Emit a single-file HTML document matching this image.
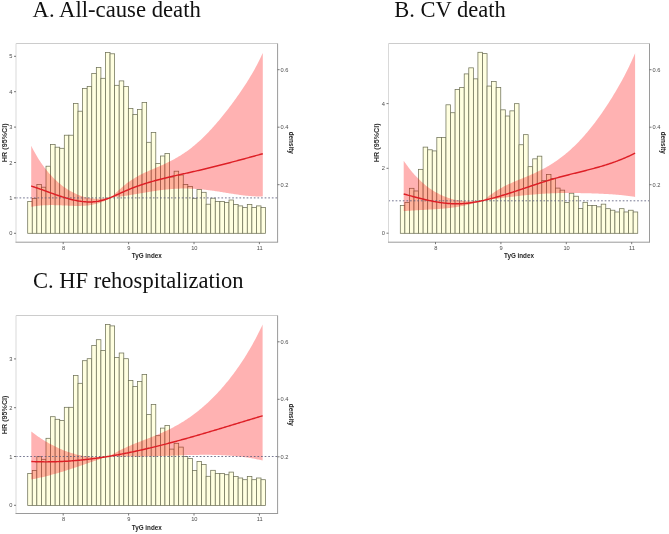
<!DOCTYPE html><html><head><meta charset="utf-8"><style>html,body{margin:0;padding:0;background:#fff;width:669px;height:534px;overflow:hidden}svg{display:block;will-change:transform}text{font-family:"Liberation Sans",sans-serif}.t{font-family:"Liberation Serif",serif}</style></head><body>
<svg width="669" height="534" viewBox="0 0 669 534">
<g><text class="t" x="32.60" y="16.90" font-size="22.70" fill="#111">A. All-cause death</text>
<rect x="27.70" y="201.40" width="4.575" height="31.90" fill="#ffffe0" stroke="#6f7258" stroke-width="0.75"/>
<rect x="32.27" y="198.40" width="4.575" height="34.90" fill="#ffffe0" stroke="#6f7258" stroke-width="0.75"/>
<rect x="36.85" y="184.60" width="4.575" height="48.70" fill="#ffffe0" stroke="#6f7258" stroke-width="0.75"/>
<rect x="41.42" y="187.20" width="4.575" height="46.10" fill="#ffffe0" stroke="#6f7258" stroke-width="0.75"/>
<rect x="46.00" y="166.20" width="4.575" height="67.10" fill="#ffffe0" stroke="#6f7258" stroke-width="0.75"/>
<rect x="50.58" y="144.60" width="4.575" height="88.70" fill="#ffffe0" stroke="#6f7258" stroke-width="0.75"/>
<rect x="55.15" y="147.20" width="4.575" height="86.10" fill="#ffffe0" stroke="#6f7258" stroke-width="0.75"/>
<rect x="59.72" y="148.30" width="4.575" height="85.00" fill="#ffffe0" stroke="#6f7258" stroke-width="0.75"/>
<rect x="64.30" y="135.20" width="4.575" height="98.10" fill="#ffffe0" stroke="#6f7258" stroke-width="0.75"/>
<rect x="68.88" y="135.20" width="4.575" height="98.10" fill="#ffffe0" stroke="#6f7258" stroke-width="0.75"/>
<rect x="73.45" y="103.50" width="4.575" height="129.80" fill="#ffffe0" stroke="#6f7258" stroke-width="0.75"/>
<rect x="78.03" y="111.20" width="4.575" height="122.10" fill="#ffffe0" stroke="#6f7258" stroke-width="0.75"/>
<rect x="82.60" y="88.60" width="4.575" height="144.70" fill="#ffffe0" stroke="#6f7258" stroke-width="0.75"/>
<rect x="87.17" y="86.60" width="4.575" height="146.70" fill="#ffffe0" stroke="#6f7258" stroke-width="0.75"/>
<rect x="91.75" y="73.50" width="4.575" height="159.80" fill="#ffffe0" stroke="#6f7258" stroke-width="0.75"/>
<rect x="96.33" y="67.60" width="4.575" height="165.70" fill="#ffffe0" stroke="#6f7258" stroke-width="0.75"/>
<rect x="100.90" y="78.30" width="4.575" height="155.00" fill="#ffffe0" stroke="#6f7258" stroke-width="0.75"/>
<rect x="105.48" y="52.50" width="4.575" height="180.80" fill="#ffffe0" stroke="#6f7258" stroke-width="0.75"/>
<rect x="110.05" y="53.80" width="4.575" height="179.50" fill="#ffffe0" stroke="#6f7258" stroke-width="0.75"/>
<rect x="114.62" y="85.30" width="4.575" height="148.00" fill="#ffffe0" stroke="#6f7258" stroke-width="0.75"/>
<rect x="119.20" y="80.90" width="4.575" height="152.40" fill="#ffffe0" stroke="#6f7258" stroke-width="0.75"/>
<rect x="123.78" y="86.60" width="4.575" height="146.70" fill="#ffffe0" stroke="#6f7258" stroke-width="0.75"/>
<rect x="128.35" y="108.40" width="4.575" height="124.90" fill="#ffffe0" stroke="#6f7258" stroke-width="0.75"/>
<rect x="132.93" y="114.40" width="4.575" height="118.90" fill="#ffffe0" stroke="#6f7258" stroke-width="0.75"/>
<rect x="137.50" y="109.40" width="4.575" height="123.90" fill="#ffffe0" stroke="#6f7258" stroke-width="0.75"/>
<rect x="142.07" y="102.40" width="4.575" height="130.90" fill="#ffffe0" stroke="#6f7258" stroke-width="0.75"/>
<rect x="146.65" y="142.30" width="4.575" height="91.00" fill="#ffffe0" stroke="#6f7258" stroke-width="0.75"/>
<rect x="151.22" y="132.50" width="4.575" height="100.80" fill="#ffffe0" stroke="#6f7258" stroke-width="0.75"/>
<rect x="155.80" y="163.60" width="4.575" height="69.70" fill="#ffffe0" stroke="#6f7258" stroke-width="0.75"/>
<rect x="160.38" y="156.00" width="4.575" height="77.30" fill="#ffffe0" stroke="#6f7258" stroke-width="0.75"/>
<rect x="164.95" y="153.40" width="4.575" height="79.90" fill="#ffffe0" stroke="#6f7258" stroke-width="0.75"/>
<rect x="169.53" y="177.00" width="4.575" height="56.30" fill="#ffffe0" stroke="#6f7258" stroke-width="0.75"/>
<rect x="174.10" y="171.20" width="4.575" height="62.10" fill="#ffffe0" stroke="#6f7258" stroke-width="0.75"/>
<rect x="178.67" y="175.00" width="4.575" height="58.30" fill="#ffffe0" stroke="#6f7258" stroke-width="0.75"/>
<rect x="183.25" y="184.40" width="4.575" height="48.90" fill="#ffffe0" stroke="#6f7258" stroke-width="0.75"/>
<rect x="187.82" y="186.40" width="4.575" height="46.90" fill="#ffffe0" stroke="#6f7258" stroke-width="0.75"/>
<rect x="192.40" y="198.30" width="4.575" height="35.00" fill="#ffffe0" stroke="#6f7258" stroke-width="0.75"/>
<rect x="196.97" y="189.40" width="4.575" height="43.90" fill="#ffffe0" stroke="#6f7258" stroke-width="0.75"/>
<rect x="201.55" y="192.30" width="4.575" height="41.00" fill="#ffffe0" stroke="#6f7258" stroke-width="0.75"/>
<rect x="206.12" y="204.20" width="4.575" height="29.10" fill="#ffffe0" stroke="#6f7258" stroke-width="0.75"/>
<rect x="210.70" y="198.20" width="4.575" height="35.10" fill="#ffffe0" stroke="#6f7258" stroke-width="0.75"/>
<rect x="215.28" y="201.40" width="4.575" height="31.90" fill="#ffffe0" stroke="#6f7258" stroke-width="0.75"/>
<rect x="219.85" y="201.40" width="4.575" height="31.90" fill="#ffffe0" stroke="#6f7258" stroke-width="0.75"/>
<rect x="224.42" y="202.60" width="4.575" height="30.70" fill="#ffffe0" stroke="#6f7258" stroke-width="0.75"/>
<rect x="229.00" y="200.00" width="4.575" height="33.30" fill="#ffffe0" stroke="#6f7258" stroke-width="0.75"/>
<rect x="233.57" y="204.40" width="4.575" height="28.90" fill="#ffffe0" stroke="#6f7258" stroke-width="0.75"/>
<rect x="238.15" y="205.90" width="4.575" height="27.40" fill="#ffffe0" stroke="#6f7258" stroke-width="0.75"/>
<rect x="242.72" y="207.60" width="4.575" height="25.70" fill="#ffffe0" stroke="#6f7258" stroke-width="0.75"/>
<rect x="247.30" y="204.40" width="4.575" height="28.90" fill="#ffffe0" stroke="#6f7258" stroke-width="0.75"/>
<rect x="251.88" y="207.60" width="4.575" height="25.70" fill="#ffffe0" stroke="#6f7258" stroke-width="0.75"/>
<rect x="256.45" y="205.90" width="4.575" height="27.40" fill="#ffffe0" stroke="#6f7258" stroke-width="0.75"/>
<rect x="261.03" y="207.60" width="4.575" height="25.70" fill="#ffffe0" stroke="#6f7258" stroke-width="0.75"/>
<path d="M31.20,145.73 L32.20,147.72 L33.21,149.64 L34.21,151.50 L35.21,153.31 L36.21,155.05 L37.22,156.74 L38.22,158.38 L39.22,159.97 L40.22,161.50 L41.23,162.99 L42.23,164.44 L43.23,165.84 L44.23,167.20 L45.24,168.51 L46.24,169.79 L47.24,171.03 L48.24,172.23 L49.25,173.39 L50.25,174.52 L51.25,175.62 L52.25,176.68 L53.26,177.71 L54.26,178.71 L55.26,179.68 L56.26,180.62 L57.27,181.53 L58.27,182.41 L59.27,183.26 L60.28,184.09 L61.28,184.89 L62.28,185.67 L63.28,186.42 L64.29,187.14 L65.29,187.84 L66.29,188.52 L67.29,189.17 L68.30,189.80 L69.30,190.41 L70.30,190.99 L71.30,191.56 L72.31,192.10 L73.31,192.62 L74.31,193.11 L75.31,193.59 L76.32,194.04 L77.32,194.48 L78.32,194.89 L79.32,195.28 L80.33,195.65 L81.33,196.01 L82.33,196.33 L83.34,196.64 L84.34,196.93 L85.34,197.20 L86.34,197.44 L87.35,197.67 L88.35,197.87 L89.35,198.05 L90.35,198.22 L91.36,198.35 L92.36,198.47 L93.36,198.57 L94.36,198.64 L95.37,198.70 L96.37,198.73 L97.37,198.74 L98.37,198.72 L99.38,198.69 L100.38,198.64 L101.38,198.56 L102.38,198.47 L103.39,198.36 L104.39,198.24 L105.39,198.11 L106.39,197.97 L107.40,197.81 L108.40,197.65 L109.40,197.48 L110.41,197.31 L111.41,197.13 L111.50,197.12 L112.41,196.22 L113.41,195.25 L114.42,194.27 L115.42,193.31 L116.42,192.35 L117.42,191.40 L118.43,190.47 L119.43,189.55 L120.43,188.64 L121.43,187.75 L122.44,186.88 L123.44,186.03 L124.44,185.20 L125.44,184.39 L126.45,183.61 L127.45,182.85 L128.45,182.12 L129.45,181.40 L130.46,180.71 L131.46,180.04 L132.46,179.39 L133.46,178.76 L134.47,178.14 L135.47,177.55 L136.47,176.97 L137.48,176.40 L138.48,175.85 L139.48,175.32 L140.48,174.80 L141.49,174.29 L142.49,173.79 L143.49,173.31 L144.49,172.83 L145.50,172.36 L146.50,171.90 L147.50,171.45 L148.50,171.00 L149.51,170.56 L150.51,170.12 L151.51,169.68 L152.51,169.25 L153.52,168.82 L154.52,168.39 L155.52,167.96 L156.52,167.53 L157.53,167.09 L158.53,166.66 L159.53,166.22 L160.54,165.78 L161.54,165.34 L162.54,164.89 L163.54,164.43 L164.55,163.97 L165.55,163.51 L166.55,163.03 L167.55,162.55 L168.56,162.06 L169.56,161.56 L170.56,161.06 L171.56,160.54 L172.57,160.01 L173.57,159.48 L174.57,158.93 L175.57,158.37 L176.58,157.80 L177.58,157.21 L178.58,156.62 L179.58,156.01 L180.59,155.39 L181.59,154.76 L182.59,154.11 L183.59,153.45 L184.60,152.77 L185.60,152.09 L186.60,151.38 L187.61,150.66 L188.61,149.93 L189.61,149.18 L190.61,148.41 L191.62,147.63 L192.62,146.84 L193.62,146.02 L194.62,145.20 L195.63,144.35 L196.63,143.49 L197.63,142.61 L198.63,141.72 L199.64,140.81 L200.64,139.88 L201.64,138.94 L202.64,137.98 L203.65,137.01 L204.65,136.02 L205.65,135.02 L206.65,134.00 L207.66,132.97 L208.66,131.92 L209.66,130.85 L210.66,129.78 L211.67,128.68 L212.67,127.58 L213.67,126.46 L214.68,125.32 L215.68,124.18 L216.68,123.02 L217.68,121.84 L218.69,120.66 L219.69,119.46 L220.69,118.25 L221.69,117.02 L222.70,115.79 L223.70,114.54 L224.70,113.28 L225.70,112.01 L226.71,110.73 L227.71,109.43 L228.71,108.13 L229.71,106.81 L230.72,105.48 L231.72,104.14 L232.72,102.79 L233.72,101.42 L234.73,100.05 L235.73,98.66 L236.73,97.25 L237.74,95.84 L238.74,94.41 L239.74,92.96 L240.74,91.50 L241.75,90.03 L242.75,88.53 L243.75,87.02 L244.75,85.50 L245.76,83.95 L246.76,82.38 L247.76,80.79 L248.76,79.18 L249.77,77.54 L250.77,75.87 L251.77,74.18 L252.77,72.45 L253.78,70.70 L254.78,68.90 L255.78,67.07 L256.78,65.20 L257.79,63.29 L258.79,61.32 L259.79,59.31 L260.79,57.25 L261.80,55.12 L262.80,52.94 L262.80,196.36 L261.80,196.40 L260.79,196.43 L259.79,196.44 L258.79,196.45 L257.79,196.44 L256.78,196.42 L255.78,196.39 L254.78,196.36 L253.78,196.31 L252.77,196.26 L251.77,196.19 L250.77,196.12 L249.77,196.04 L248.76,195.95 L247.76,195.86 L246.76,195.76 L245.76,195.65 L244.75,195.54 L243.75,195.42 L242.75,195.30 L241.75,195.17 L240.74,195.04 L239.74,194.90 L238.74,194.76 L237.74,194.62 L236.73,194.47 L235.73,194.32 L234.73,194.17 L233.72,194.01 L232.72,193.86 L231.72,193.70 L230.72,193.54 L229.71,193.38 L228.71,193.21 L227.71,193.05 L226.71,192.89 L225.70,192.73 L224.70,192.56 L223.70,192.40 L222.70,192.24 L221.69,192.08 L220.69,191.92 L219.69,191.76 L218.69,191.60 L217.68,191.45 L216.68,191.29 L215.68,191.14 L214.68,191.00 L213.67,190.85 L212.67,190.71 L211.67,190.57 L210.66,190.44 L209.66,190.31 L208.66,190.18 L207.66,190.06 L206.65,189.94 L205.65,189.82 L204.65,189.71 L203.65,189.60 L202.64,189.50 L201.64,189.40 L200.64,189.31 L199.64,189.23 L198.63,189.14 L197.63,189.07 L196.63,188.99 L195.63,188.93 L194.62,188.87 L193.62,188.81 L192.62,188.76 L191.62,188.71 L190.61,188.67 L189.61,188.64 L188.61,188.61 L187.61,188.59 L186.60,188.57 L185.60,188.56 L184.60,188.56 L183.59,188.56 L182.59,188.57 L181.59,188.58 L180.59,188.60 L179.58,188.63 L178.58,188.66 L177.58,188.70 L176.58,188.75 L175.57,188.80 L174.57,188.85 L173.57,188.91 L172.57,188.98 L171.56,189.05 L170.56,189.13 L169.56,189.22 L168.56,189.31 L167.55,189.40 L166.55,189.50 L165.55,189.61 L164.55,189.72 L163.54,189.83 L162.54,189.95 L161.54,190.07 L160.54,190.20 L159.53,190.33 L158.53,190.47 L157.53,190.61 L156.52,190.75 L155.52,190.90 L154.52,191.05 L153.52,191.20 L152.51,191.35 L151.51,191.51 L150.51,191.67 L149.51,191.83 L148.50,191.99 L147.50,192.16 L146.50,192.33 L145.50,192.49 L144.49,192.66 L143.49,192.83 L142.49,193.00 L141.49,193.17 L140.48,193.35 L139.48,193.52 L138.48,193.69 L137.48,193.86 L136.47,194.03 L135.47,194.20 L134.47,194.37 L133.46,194.53 L132.46,194.70 L131.46,194.87 L130.46,195.03 L129.45,195.19 L128.45,195.35 L127.45,195.51 L126.45,195.66 L125.44,195.82 L124.44,195.97 L123.44,196.12 L122.44,196.26 L121.43,196.40 L120.43,196.53 L119.43,196.65 L118.43,196.77 L117.42,196.87 L116.42,196.95 L115.42,197.02 L114.42,197.08 L113.41,197.11 L112.41,197.12 L111.50,197.12 L111.41,197.17 L110.41,197.77 L109.40,198.35 L108.40,198.91 L107.40,199.44 L106.39,199.96 L105.39,200.46 L104.39,200.93 L103.39,201.38 L102.38,201.80 L101.38,202.21 L100.38,202.59 L99.38,202.94 L98.37,203.27 L97.37,203.58 L96.37,203.86 L95.37,204.12 L94.36,204.36 L93.36,204.57 L92.36,204.77 L91.36,204.95 L90.35,205.11 L89.35,205.25 L88.35,205.38 L87.35,205.49 L86.34,205.59 L85.34,205.67 L84.34,205.74 L83.34,205.79 L82.33,205.84 L81.33,205.87 L80.33,205.90 L79.32,205.91 L78.32,205.92 L77.32,205.92 L76.32,205.91 L75.31,205.90 L74.31,205.88 L73.31,205.85 L72.31,205.82 L71.30,205.79 L70.30,205.75 L69.30,205.71 L68.30,205.67 L67.29,205.62 L66.29,205.58 L65.29,205.53 L64.29,205.49 L63.28,205.44 L62.28,205.39 L61.28,205.35 L60.28,205.31 L59.27,205.27 L58.27,205.23 L57.27,205.20 L56.26,205.17 L55.26,205.15 L54.26,205.13 L53.26,205.11 L52.25,205.10 L51.25,205.10 L50.25,205.11 L49.25,205.12 L48.24,205.14 L47.24,205.16 L46.24,205.20 L45.24,205.24 L44.23,205.29 L43.23,205.35 L42.23,205.42 L41.23,205.49 L40.22,205.58 L39.22,205.68 L38.22,205.79 L37.22,205.91 L36.21,206.03 L35.21,206.17 L34.21,206.32 L33.21,206.48 L32.20,206.65 L31.20,206.83 Z" fill="#ff0000" fill-opacity="0.3" stroke="none"/>
<line x1="15.90" y1="197.90" x2="277.60" y2="197.90" stroke="#5d607e" stroke-width="0.85" stroke-dasharray="1.7,1.905"/>
<path d="M31.20,186.05 L32.20,186.37 L33.21,186.69 L34.21,187.02 L35.21,187.35 L36.21,187.69 L37.22,188.03 L38.22,188.37 L39.22,188.72 L40.22,189.08 L41.23,189.43 L42.23,189.79 L43.23,190.15 L44.23,190.51 L45.24,190.88 L46.24,191.24 L47.24,191.60 L48.24,191.97 L49.25,192.33 L50.25,192.70 L51.25,193.06 L52.25,193.42 L53.26,193.78 L54.26,194.14 L55.26,194.49 L56.26,194.84 L57.27,195.19 L58.27,195.53 L59.27,195.87 L60.28,196.20 L61.28,196.53 L62.28,196.85 L63.28,197.17 L64.29,197.48 L65.29,197.79 L66.29,198.08 L67.29,198.37 L68.30,198.65 L69.30,198.93 L70.30,199.19 L71.30,199.45 L72.31,199.69 L73.31,199.93 L74.31,200.15 L75.31,200.37 L76.32,200.57 L77.32,200.76 L78.32,200.94 L79.32,201.11 L80.33,201.26 L81.33,201.40 L82.33,201.53 L83.34,201.64 L84.34,201.74 L85.34,201.82 L86.34,201.89 L87.35,201.93 L88.35,201.96 L89.35,201.98 L90.35,201.97 L91.36,201.95 L92.36,201.91 L93.36,201.84 L94.36,201.76 L95.37,201.65 L96.37,201.53 L97.37,201.38 L98.37,201.21 L99.38,201.01 L100.38,200.79 L101.38,200.55 L102.38,200.29 L103.39,200.01 L104.39,199.71 L105.39,199.39 L106.39,199.06 L107.40,198.70 L108.40,198.34 L109.40,197.96 L110.41,197.56 L111.41,197.15 L111.50,197.12 L112.41,196.73 L113.41,196.31 L114.42,195.87 L115.42,195.43 L116.42,194.98 L117.42,194.52 L118.43,194.07 L119.43,193.61 L120.43,193.15 L121.43,192.69 L122.44,192.24 L123.44,191.79 L124.44,191.34 L125.44,190.90 L126.45,190.47 L127.45,190.05 L128.45,189.63 L129.45,189.22 L130.46,188.82 L131.46,188.42 L132.46,188.03 L133.46,187.64 L134.47,187.27 L135.47,186.89 L136.47,186.53 L137.48,186.17 L138.48,185.81 L139.48,185.47 L140.48,185.12 L141.49,184.78 L142.49,184.45 L143.49,184.12 L144.49,183.80 L145.50,183.48 L146.50,183.17 L147.50,182.86 L148.50,182.56 L149.51,182.26 L150.51,181.96 L151.51,181.67 L152.51,181.39 L153.52,181.10 L154.52,180.82 L155.52,180.55 L156.52,180.28 L157.53,180.01 L158.53,179.74 L159.53,179.48 L160.54,179.22 L161.54,178.96 L162.54,178.71 L163.54,178.46 L164.55,178.21 L165.55,177.97 L166.55,177.72 L167.55,177.48 L168.56,177.24 L169.56,177.00 L170.56,176.77 L171.56,176.54 L172.57,176.30 L173.57,176.07 L174.57,175.84 L175.57,175.62 L176.58,175.39 L177.58,175.16 L178.58,174.94 L179.58,174.71 L180.59,174.49 L181.59,174.27 L182.59,174.04 L183.59,173.82 L184.60,173.60 L185.60,173.38 L186.60,173.15 L187.61,172.93 L188.61,172.71 L189.61,172.48 L190.61,172.26 L191.62,172.03 L192.62,171.81 L193.62,171.58 L194.62,171.35 L195.63,171.12 L196.63,170.89 L197.63,170.66 L198.63,170.43 L199.64,170.20 L200.64,169.96 L201.64,169.72 L202.64,169.49 L203.65,169.25 L204.65,169.01 L205.65,168.77 L206.65,168.53 L207.66,168.28 L208.66,168.04 L209.66,167.79 L210.66,167.55 L211.67,167.30 L212.67,167.05 L213.67,166.80 L214.68,166.55 L215.68,166.30 L216.68,166.05 L217.68,165.80 L218.69,165.55 L219.69,165.29 L220.69,165.04 L221.69,164.78 L222.70,164.52 L223.70,164.26 L224.70,164.01 L225.70,163.75 L226.71,163.49 L227.71,163.22 L228.71,162.96 L229.71,162.70 L230.72,162.44 L231.72,162.17 L232.72,161.91 L233.72,161.64 L234.73,161.38 L235.73,161.11 L236.73,160.84 L237.74,160.57 L238.74,160.31 L239.74,160.04 L240.74,159.77 L241.75,159.50 L242.75,159.23 L243.75,158.96 L244.75,158.68 L245.76,158.41 L246.76,158.14 L247.76,157.87 L248.76,157.59 L249.77,157.32 L250.77,157.04 L251.77,156.77 L252.77,156.49 L253.78,156.22 L254.78,155.94 L255.78,155.67 L256.78,155.39 L257.79,155.11 L258.79,154.84 L259.79,154.56 L260.79,154.28 L261.80,154.00 L262.80,153.72" fill="none" stroke="#de1f26" stroke-width="1.45" stroke-linecap="butt"/>
<line x1="16.00" y1="43.50" x2="277.60" y2="43.50" stroke="#cccccc" stroke-width="1"/>
<line x1="16.00" y1="43.50" x2="16.00" y2="242.20" stroke="#d9d9d9" stroke-width="1"/>
<line x1="15.50" y1="242.20" x2="278.10" y2="242.20" stroke="#9a9a9a" stroke-width="1"/>
<line x1="277.60" y1="43.50" x2="277.60" y2="242.20" stroke="#9a9a9a" stroke-width="1"/>
<line x1="14.00" y1="233.30" x2="16.00" y2="233.30" stroke="#555" stroke-width="0.8"/>
<text x="12.50" y="235.35" font-size="5.7" fill="#4d4d4d" text-anchor="end">0</text>
<line x1="14.00" y1="197.90" x2="16.00" y2="197.90" stroke="#555" stroke-width="0.8"/>
<text x="12.50" y="199.95" font-size="5.7" fill="#4d4d4d" text-anchor="end">1</text>
<line x1="14.00" y1="162.50" x2="16.00" y2="162.50" stroke="#555" stroke-width="0.8"/>
<text x="12.50" y="164.55" font-size="5.7" fill="#4d4d4d" text-anchor="end">2</text>
<line x1="14.00" y1="127.10" x2="16.00" y2="127.10" stroke="#555" stroke-width="0.8"/>
<text x="12.50" y="129.15" font-size="5.7" fill="#4d4d4d" text-anchor="end">3</text>
<line x1="14.00" y1="91.70" x2="16.00" y2="91.70" stroke="#555" stroke-width="0.8"/>
<text x="12.50" y="93.75" font-size="5.7" fill="#4d4d4d" text-anchor="end">4</text>
<line x1="14.00" y1="56.30" x2="16.00" y2="56.30" stroke="#555" stroke-width="0.8"/>
<text x="12.50" y="58.35" font-size="5.7" fill="#4d4d4d" text-anchor="end">5</text>
<line x1="277.60" y1="184.70" x2="279.60" y2="184.70" stroke="#555" stroke-width="0.8"/>
<text x="280.60" y="186.75" font-size="5.7" fill="#4d4d4d">0.2</text>
<line x1="277.60" y1="127.20" x2="279.60" y2="127.20" stroke="#555" stroke-width="0.8"/>
<text x="280.60" y="129.25" font-size="5.7" fill="#4d4d4d">0.4</text>
<line x1="277.60" y1="69.70" x2="279.60" y2="69.70" stroke="#555" stroke-width="0.8"/>
<text x="280.60" y="71.75" font-size="5.7" fill="#4d4d4d">0.6</text>
<line x1="63.20" y1="242.20" x2="63.20" y2="244.20" stroke="#555" stroke-width="0.8"/>
<text x="63.50" y="249.80" font-size="5.7" fill="#4d4d4d" text-anchor="middle">8</text>
<line x1="128.60" y1="242.20" x2="128.60" y2="244.20" stroke="#555" stroke-width="0.8"/>
<text x="128.90" y="249.80" font-size="5.7" fill="#4d4d4d" text-anchor="middle">9</text>
<line x1="194.00" y1="242.20" x2="194.00" y2="244.20" stroke="#555" stroke-width="0.8"/>
<text x="194.30" y="249.80" font-size="5.7" fill="#4d4d4d" text-anchor="middle">10</text>
<line x1="259.40" y1="242.20" x2="259.40" y2="244.20" stroke="#555" stroke-width="0.8"/>
<text x="259.70" y="249.80" font-size="5.7" fill="#4d4d4d" text-anchor="middle">11</text>
<text x="146.80" y="258.40" font-size="6.3" font-weight="bold" fill="#222" text-anchor="middle">TyG index</text>
<text transform="translate(7.00,142.75) rotate(-90)" font-size="7.2" font-weight="bold" fill="#333" text-anchor="middle">HR (95%CI)</text>
<text transform="translate(288.60,142.70) rotate(90)" font-size="6.3" font-weight="bold" fill="#222" text-anchor="middle">density</text></g>
<g><text class="t" x="394.30" y="16.90" font-size="22.50" fill="#111">B. CV death</text>
<rect x="400.30" y="205.60" width="4.566" height="27.70" fill="#ffffe0" stroke="#6f7258" stroke-width="0.75"/>
<rect x="404.87" y="202.51" width="4.566" height="30.79" fill="#ffffe0" stroke="#6f7258" stroke-width="0.75"/>
<rect x="409.43" y="188.30" width="4.566" height="45.00" fill="#ffffe0" stroke="#6f7258" stroke-width="0.75"/>
<rect x="414.00" y="190.98" width="4.566" height="42.32" fill="#ffffe0" stroke="#6f7258" stroke-width="0.75"/>
<rect x="418.56" y="169.35" width="4.566" height="63.95" fill="#ffffe0" stroke="#6f7258" stroke-width="0.75"/>
<rect x="423.13" y="147.11" width="4.566" height="86.19" fill="#ffffe0" stroke="#6f7258" stroke-width="0.75"/>
<rect x="427.70" y="149.79" width="4.566" height="83.51" fill="#ffffe0" stroke="#6f7258" stroke-width="0.75"/>
<rect x="432.26" y="150.92" width="4.566" height="82.38" fill="#ffffe0" stroke="#6f7258" stroke-width="0.75"/>
<rect x="436.83" y="137.44" width="4.566" height="95.86" fill="#ffffe0" stroke="#6f7258" stroke-width="0.75"/>
<rect x="441.39" y="137.44" width="4.566" height="95.86" fill="#ffffe0" stroke="#6f7258" stroke-width="0.75"/>
<rect x="445.96" y="104.80" width="4.566" height="128.50" fill="#ffffe0" stroke="#6f7258" stroke-width="0.75"/>
<rect x="450.53" y="112.73" width="4.566" height="120.57" fill="#ffffe0" stroke="#6f7258" stroke-width="0.75"/>
<rect x="455.09" y="89.46" width="4.566" height="143.84" fill="#ffffe0" stroke="#6f7258" stroke-width="0.75"/>
<rect x="459.66" y="87.40" width="4.566" height="145.90" fill="#ffffe0" stroke="#6f7258" stroke-width="0.75"/>
<rect x="464.22" y="73.91" width="4.566" height="159.39" fill="#ffffe0" stroke="#6f7258" stroke-width="0.75"/>
<rect x="468.79" y="67.84" width="4.566" height="165.46" fill="#ffffe0" stroke="#6f7258" stroke-width="0.75"/>
<rect x="473.36" y="78.85" width="4.566" height="154.45" fill="#ffffe0" stroke="#6f7258" stroke-width="0.75"/>
<rect x="477.92" y="52.29" width="4.566" height="181.01" fill="#ffffe0" stroke="#6f7258" stroke-width="0.75"/>
<rect x="482.49" y="53.63" width="4.566" height="179.67" fill="#ffffe0" stroke="#6f7258" stroke-width="0.75"/>
<rect x="487.05" y="86.06" width="4.566" height="147.24" fill="#ffffe0" stroke="#6f7258" stroke-width="0.75"/>
<rect x="491.62" y="81.53" width="4.566" height="151.77" fill="#ffffe0" stroke="#6f7258" stroke-width="0.75"/>
<rect x="496.19" y="87.40" width="4.566" height="145.90" fill="#ffffe0" stroke="#6f7258" stroke-width="0.75"/>
<rect x="500.75" y="109.84" width="4.566" height="123.46" fill="#ffffe0" stroke="#6f7258" stroke-width="0.75"/>
<rect x="505.32" y="116.02" width="4.566" height="117.28" fill="#ffffe0" stroke="#6f7258" stroke-width="0.75"/>
<rect x="509.88" y="110.87" width="4.566" height="122.43" fill="#ffffe0" stroke="#6f7258" stroke-width="0.75"/>
<rect x="514.45" y="103.67" width="4.566" height="129.63" fill="#ffffe0" stroke="#6f7258" stroke-width="0.75"/>
<rect x="519.02" y="144.75" width="4.566" height="88.55" fill="#ffffe0" stroke="#6f7258" stroke-width="0.75"/>
<rect x="523.58" y="134.66" width="4.566" height="98.64" fill="#ffffe0" stroke="#6f7258" stroke-width="0.75"/>
<rect x="528.15" y="166.68" width="4.566" height="66.62" fill="#ffffe0" stroke="#6f7258" stroke-width="0.75"/>
<rect x="532.71" y="158.85" width="4.566" height="74.45" fill="#ffffe0" stroke="#6f7258" stroke-width="0.75"/>
<rect x="537.28" y="156.17" width="4.566" height="77.13" fill="#ffffe0" stroke="#6f7258" stroke-width="0.75"/>
<rect x="541.85" y="180.47" width="4.566" height="52.83" fill="#ffffe0" stroke="#6f7258" stroke-width="0.75"/>
<rect x="546.41" y="174.50" width="4.566" height="58.80" fill="#ffffe0" stroke="#6f7258" stroke-width="0.75"/>
<rect x="550.98" y="178.41" width="4.566" height="54.89" fill="#ffffe0" stroke="#6f7258" stroke-width="0.75"/>
<rect x="555.54" y="188.09" width="4.566" height="45.21" fill="#ffffe0" stroke="#6f7258" stroke-width="0.75"/>
<rect x="560.11" y="190.15" width="4.566" height="43.15" fill="#ffffe0" stroke="#6f7258" stroke-width="0.75"/>
<rect x="564.68" y="202.40" width="4.566" height="30.90" fill="#ffffe0" stroke="#6f7258" stroke-width="0.75"/>
<rect x="569.24" y="193.24" width="4.566" height="40.06" fill="#ffffe0" stroke="#6f7258" stroke-width="0.75"/>
<rect x="573.81" y="196.23" width="4.566" height="37.07" fill="#ffffe0" stroke="#6f7258" stroke-width="0.75"/>
<rect x="578.37" y="208.48" width="4.566" height="24.82" fill="#ffffe0" stroke="#6f7258" stroke-width="0.75"/>
<rect x="582.94" y="202.30" width="4.566" height="31.00" fill="#ffffe0" stroke="#6f7258" stroke-width="0.75"/>
<rect x="587.51" y="205.60" width="4.566" height="27.70" fill="#ffffe0" stroke="#6f7258" stroke-width="0.75"/>
<rect x="592.07" y="205.60" width="4.566" height="27.70" fill="#ffffe0" stroke="#6f7258" stroke-width="0.75"/>
<rect x="596.64" y="206.83" width="4.566" height="26.47" fill="#ffffe0" stroke="#6f7258" stroke-width="0.75"/>
<rect x="601.20" y="204.15" width="4.566" height="29.15" fill="#ffffe0" stroke="#6f7258" stroke-width="0.75"/>
<rect x="605.77" y="208.68" width="4.566" height="24.62" fill="#ffffe0" stroke="#6f7258" stroke-width="0.75"/>
<rect x="610.34" y="210.23" width="4.566" height="23.07" fill="#ffffe0" stroke="#6f7258" stroke-width="0.75"/>
<rect x="614.90" y="211.98" width="4.566" height="21.32" fill="#ffffe0" stroke="#6f7258" stroke-width="0.75"/>
<rect x="619.47" y="208.68" width="4.566" height="24.62" fill="#ffffe0" stroke="#6f7258" stroke-width="0.75"/>
<rect x="624.03" y="211.98" width="4.566" height="21.32" fill="#ffffe0" stroke="#6f7258" stroke-width="0.75"/>
<rect x="628.60" y="210.23" width="4.566" height="23.07" fill="#ffffe0" stroke="#6f7258" stroke-width="0.75"/>
<rect x="633.17" y="211.98" width="4.566" height="21.32" fill="#ffffe0" stroke="#6f7258" stroke-width="0.75"/>
<path d="M403.70,160.69 L404.70,162.17 L405.70,163.61 L406.71,165.01 L407.71,166.37 L408.71,167.70 L409.71,168.99 L410.71,170.24 L411.71,171.47 L412.72,172.65 L413.72,173.81 L414.72,174.93 L415.72,176.03 L416.72,177.09 L417.72,178.12 L418.73,179.12 L419.73,180.10 L420.73,181.04 L421.73,181.96 L422.73,182.86 L423.73,183.72 L424.74,184.56 L425.74,185.38 L426.74,186.17 L427.74,186.93 L428.74,187.68 L429.75,188.40 L430.75,189.09 L431.75,189.76 L432.75,190.42 L433.75,191.04 L434.75,191.65 L435.76,192.24 L436.76,192.80 L437.76,193.35 L438.76,193.87 L439.76,194.38 L440.76,194.86 L441.77,195.33 L442.77,195.77 L443.77,196.20 L444.77,196.61 L445.77,197.00 L446.77,197.37 L447.78,197.72 L448.78,198.06 L449.78,198.37 L450.78,198.67 L451.78,198.95 L452.78,199.22 L453.79,199.47 L454.79,199.69 L455.79,199.91 L456.79,200.10 L457.79,200.28 L458.80,200.44 L459.80,200.59 L460.80,200.72 L461.80,200.83 L462.80,200.93 L463.80,201.02 L464.81,201.09 L465.81,201.15 L466.81,201.19 L467.81,201.22 L468.81,201.25 L469.81,201.26 L470.82,201.25 L471.82,201.24 L472.82,201.22 L473.82,201.19 L474.82,201.15 L475.82,201.10 L476.83,201.04 L477.83,200.97 L478.83,200.89 L479.83,200.81 L480.83,200.72 L481.84,200.62 L482.84,200.51 L483.50,200.44 L483.84,200.15 L484.84,199.31 L485.84,198.49 L486.84,197.68 L487.85,196.89 L488.85,196.12 L489.85,195.36 L490.85,194.62 L491.85,193.90 L492.85,193.20 L493.86,192.51 L494.86,191.85 L495.86,191.20 L496.86,190.56 L497.86,189.94 L498.86,189.34 L499.87,188.76 L500.87,188.19 L501.87,187.63 L502.87,187.09 L503.87,186.56 L504.87,186.05 L505.88,185.54 L506.88,185.05 L507.88,184.57 L508.88,184.10 L509.88,183.64 L510.89,183.19 L511.89,182.74 L512.89,182.31 L513.89,181.87 L514.89,181.45 L515.89,181.03 L516.90,180.61 L517.90,180.19 L518.90,179.78 L519.90,179.37 L520.90,178.97 L521.90,178.56 L522.91,178.15 L523.91,177.74 L524.91,177.33 L525.91,176.92 L526.91,176.50 L527.91,176.08 L528.92,175.66 L529.92,175.23 L530.92,174.80 L531.92,174.36 L532.92,173.92 L533.93,173.47 L534.93,173.01 L535.93,172.55 L536.93,172.07 L537.93,171.59 L538.93,171.10 L539.94,170.60 L540.94,170.09 L541.94,169.58 L542.94,169.05 L543.94,168.51 L544.94,167.96 L545.95,167.40 L546.95,166.83 L547.95,166.24 L548.95,165.65 L549.95,165.04 L550.95,164.42 L551.96,163.79 L552.96,163.15 L553.96,162.49 L554.96,161.82 L555.96,161.14 L556.96,160.45 L557.97,159.74 L558.97,159.02 L559.97,158.29 L560.97,157.54 L561.97,156.78 L562.98,156.00 L563.98,155.21 L564.98,154.40 L565.98,153.58 L566.98,152.74 L567.98,151.89 L568.99,151.01 L569.99,150.13 L570.99,149.22 L571.99,148.30 L572.99,147.36 L573.99,146.41 L575.00,145.44 L576.00,144.45 L577.00,143.44 L578.00,142.42 L579.00,141.38 L580.00,140.32 L581.01,139.25 L582.01,138.16 L583.01,137.05 L584.01,135.92 L585.01,134.77 L586.02,133.61 L587.02,132.43 L588.02,131.24 L589.02,130.02 L590.02,128.79 L591.02,127.54 L592.03,126.28 L593.03,125.00 L594.03,123.70 L595.03,122.38 L596.03,121.05 L597.03,119.70 L598.04,118.33 L599.04,116.94 L600.04,115.54 L601.04,114.13 L602.04,112.69 L603.04,111.24 L604.05,109.77 L605.05,108.29 L606.05,106.79 L607.05,105.27 L608.05,103.73 L609.05,102.17 L610.06,100.60 L611.06,99.01 L612.06,97.40 L613.06,95.77 L614.06,94.12 L615.07,92.45 L616.07,90.77 L617.07,89.05 L618.07,87.32 L619.07,85.57 L620.07,83.79 L621.08,81.98 L622.08,80.15 L623.08,78.29 L624.08,76.40 L625.08,74.48 L626.08,72.53 L627.09,70.55 L628.09,68.53 L629.09,66.47 L630.09,64.37 L631.09,62.23 L632.09,60.04 L633.10,57.80 L634.10,55.51 L635.10,53.17 L635.10,196.92 L634.10,196.76 L633.10,196.60 L632.09,196.45 L631.09,196.30 L630.09,196.16 L629.09,196.03 L628.09,195.90 L627.09,195.77 L626.08,195.65 L625.08,195.53 L624.08,195.42 L623.08,195.31 L622.08,195.21 L621.08,195.11 L620.07,195.01 L619.07,194.92 L618.07,194.83 L617.07,194.74 L616.07,194.66 L615.07,194.58 L614.06,194.50 L613.06,194.43 L612.06,194.36 L611.06,194.29 L610.06,194.23 L609.05,194.16 L608.05,194.10 L607.05,194.04 L606.05,193.99 L605.05,193.93 L604.05,193.88 L603.04,193.83 L602.04,193.79 L601.04,193.74 L600.04,193.70 L599.04,193.65 L598.04,193.61 L597.03,193.57 L596.03,193.54 L595.03,193.50 L594.03,193.47 L593.03,193.43 L592.03,193.40 L591.02,193.37 L590.02,193.34 L589.02,193.31 L588.02,193.29 L587.02,193.26 L586.02,193.24 L585.01,193.21 L584.01,193.19 L583.01,193.17 L582.01,193.15 L581.01,193.13 L580.00,193.11 L579.00,193.10 L578.00,193.08 L577.00,193.07 L576.00,193.06 L575.00,193.05 L573.99,193.04 L572.99,193.03 L571.99,193.02 L570.99,193.02 L569.99,193.02 L568.99,193.01 L567.98,193.01 L566.98,193.02 L565.98,193.02 L564.98,193.02 L563.98,193.03 L562.98,193.04 L561.97,193.05 L560.97,193.07 L559.97,193.08 L558.97,193.10 L557.97,193.12 L556.96,193.15 L555.96,193.18 L554.96,193.21 L553.96,193.24 L552.96,193.27 L551.96,193.31 L550.95,193.36 L549.95,193.40 L548.95,193.45 L547.95,193.50 L546.95,193.55 L545.95,193.61 L544.94,193.67 L543.94,193.73 L542.94,193.79 L541.94,193.86 L540.94,193.93 L539.94,194.00 L538.93,194.07 L537.93,194.14 L536.93,194.22 L535.93,194.30 L534.93,194.38 L533.93,194.47 L532.92,194.55 L531.92,194.64 L530.92,194.73 L529.92,194.82 L528.92,194.91 L527.91,195.01 L526.91,195.10 L525.91,195.20 L524.91,195.30 L523.91,195.41 L522.91,195.51 L521.90,195.61 L520.90,195.72 L519.90,195.83 L518.90,195.94 L517.90,196.05 L516.90,196.16 L515.89,196.28 L514.89,196.39 L513.89,196.51 L512.89,196.63 L511.89,196.75 L510.89,196.87 L509.88,196.99 L508.88,197.11 L507.88,197.24 L506.88,197.36 L505.88,197.49 L504.87,197.62 L503.87,197.74 L502.87,197.87 L501.87,198.00 L500.87,198.13 L499.87,198.26 L498.86,198.39 L497.86,198.53 L496.86,198.66 L495.86,198.79 L494.86,198.92 L493.86,199.06 L492.85,199.19 L491.85,199.33 L490.85,199.46 L489.85,199.59 L488.85,199.73 L487.85,199.86 L486.84,200.00 L485.84,200.13 L484.84,200.26 L483.84,200.40 L483.50,200.44 L482.84,200.64 L481.84,200.93 L480.83,201.23 L479.83,201.52 L478.83,201.81 L477.83,202.10 L476.83,202.39 L475.82,202.67 L474.82,202.95 L473.82,203.22 L472.82,203.49 L471.82,203.76 L470.82,204.02 L469.81,204.27 L468.81,204.52 L467.81,204.77 L466.81,205.01 L465.81,205.24 L464.81,205.46 L463.80,205.68 L462.80,205.89 L461.80,206.10 L460.80,206.30 L459.80,206.49 L458.80,206.67 L457.79,206.84 L456.79,207.01 L455.79,207.17 L454.79,207.32 L453.79,207.47 L452.78,207.61 L451.78,207.74 L450.78,207.87 L449.78,207.99 L448.78,208.10 L447.78,208.21 L446.77,208.32 L445.77,208.42 L444.77,208.51 L443.77,208.60 L442.77,208.69 L441.77,208.77 L440.76,208.85 L439.76,208.93 L438.76,209.00 L437.76,209.07 L436.76,209.14 L435.76,209.21 L434.75,209.27 L433.75,209.33 L432.75,209.39 L431.75,209.45 L430.75,209.51 L429.75,209.56 L428.74,209.62 L427.74,209.67 L426.74,209.73 L425.74,209.78 L424.74,209.84 L423.73,209.89 L422.73,209.94 L421.73,210.00 L420.73,210.05 L419.73,210.10 L418.73,210.16 L417.72,210.21 L416.72,210.27 L415.72,210.33 L414.72,210.39 L413.72,210.45 L412.72,210.51 L411.71,210.57 L410.71,210.63 L409.71,210.70 L408.71,210.76 L407.71,210.83 L406.71,210.90 L405.70,210.97 L404.70,211.05 L403.70,211.12 Z" fill="#ff0000" fill-opacity="0.3" stroke="none"/>
<line x1="388.40" y1="200.80" x2="649.50" y2="200.80" stroke="#5d607e" stroke-width="0.85" stroke-dasharray="1.7,1.905"/>
<path d="M403.70,194.01 L404.70,194.28 L405.70,194.55 L406.71,194.82 L407.71,195.09 L408.71,195.36 L409.71,195.63 L410.71,195.90 L411.71,196.17 L412.72,196.44 L413.72,196.70 L414.72,196.97 L415.72,197.23 L416.72,197.49 L417.72,197.75 L418.73,198.01 L419.73,198.26 L420.73,198.52 L421.73,198.76 L422.73,199.01 L423.73,199.25 L424.74,199.49 L425.74,199.72 L426.74,199.95 L427.74,200.18 L428.74,200.40 L429.75,200.61 L430.75,200.82 L431.75,201.03 L432.75,201.23 L433.75,201.42 L434.75,201.61 L435.76,201.79 L436.76,201.97 L437.76,202.14 L438.76,202.30 L439.76,202.46 L440.76,202.61 L441.77,202.75 L442.77,202.88 L443.77,203.01 L444.77,203.12 L445.77,203.23 L446.77,203.33 L447.78,203.43 L448.78,203.51 L449.78,203.58 L450.78,203.65 L451.78,203.70 L452.78,203.75 L453.79,203.78 L454.79,203.80 L455.79,203.82 L456.79,203.82 L457.79,203.81 L458.80,203.80 L459.80,203.77 L460.80,203.73 L461.80,203.68 L462.80,203.61 L463.80,203.54 L464.81,203.46 L465.81,203.37 L466.81,203.27 L467.81,203.16 L468.81,203.04 L469.81,202.92 L470.82,202.78 L471.82,202.64 L472.82,202.49 L473.82,202.33 L474.82,202.16 L475.82,201.99 L476.83,201.81 L477.83,201.62 L478.83,201.43 L479.83,201.23 L480.83,201.02 L481.84,200.81 L482.84,200.59 L483.50,200.44 L483.84,200.36 L484.84,200.14 L485.84,199.90 L486.84,199.66 L487.85,199.42 L488.85,199.17 L489.85,198.92 L490.85,198.66 L491.85,198.39 L492.85,198.13 L493.86,197.86 L494.86,197.58 L495.86,197.30 L496.86,197.02 L497.86,196.73 L498.86,196.44 L499.87,196.15 L500.87,195.85 L501.87,195.56 L502.87,195.25 L503.87,194.95 L504.87,194.64 L505.88,194.33 L506.88,194.01 L507.88,193.70 L508.88,193.38 L509.88,193.06 L510.89,192.74 L511.89,192.41 L512.89,192.09 L513.89,191.76 L514.89,191.43 L515.89,191.10 L516.90,190.77 L517.90,190.43 L518.90,190.10 L519.90,189.77 L520.90,189.43 L521.90,189.09 L522.91,188.76 L523.91,188.42 L524.91,188.08 L525.91,187.74 L526.91,187.40 L527.91,187.07 L528.92,186.73 L529.92,186.39 L530.92,186.05 L531.92,185.72 L532.92,185.38 L533.93,185.05 L534.93,184.71 L535.93,184.38 L536.93,184.05 L537.93,183.72 L538.93,183.39 L539.94,183.06 L540.94,182.74 L541.94,182.41 L542.94,182.09 L543.94,181.77 L544.94,181.45 L545.95,181.14 L546.95,180.82 L547.95,180.51 L548.95,180.21 L549.95,179.90 L550.95,179.60 L551.96,179.30 L552.96,179.00 L553.96,178.71 L554.96,178.42 L555.96,178.14 L556.96,177.85 L557.97,177.58 L558.97,177.30 L559.97,177.03 L560.97,176.76 L561.97,176.49 L562.98,176.22 L563.98,175.96 L564.98,175.70 L565.98,175.44 L566.98,175.19 L567.98,174.93 L568.99,174.68 L569.99,174.42 L570.99,174.17 L571.99,173.92 L572.99,173.67 L573.99,173.42 L575.00,173.18 L576.00,172.93 L577.00,172.68 L578.00,172.43 L579.00,172.18 L580.00,171.93 L581.01,171.69 L582.01,171.44 L583.01,171.19 L584.01,170.94 L585.01,170.68 L586.02,170.43 L587.02,170.17 L588.02,169.92 L589.02,169.66 L590.02,169.40 L591.02,169.14 L592.03,168.87 L593.03,168.61 L594.03,168.34 L595.03,168.06 L596.03,167.79 L597.03,167.51 L598.04,167.23 L599.04,166.95 L600.04,166.66 L601.04,166.37 L602.04,166.07 L603.04,165.77 L604.05,165.47 L605.05,165.16 L606.05,164.85 L607.05,164.53 L608.05,164.21 L609.05,163.88 L610.06,163.55 L611.06,163.21 L612.06,162.87 L613.06,162.52 L614.06,162.17 L615.07,161.81 L616.07,161.44 L617.07,161.07 L618.07,160.69 L619.07,160.30 L620.07,159.91 L621.08,159.51 L622.08,159.10 L623.08,158.69 L624.08,158.27 L625.08,157.84 L626.08,157.41 L627.09,156.96 L628.09,156.51 L629.09,156.05 L630.09,155.58 L631.09,155.10 L632.09,154.62 L633.10,154.12 L634.10,153.62 L635.10,153.11" fill="none" stroke="#de1f26" stroke-width="1.45" stroke-linecap="butt"/>
<line x1="388.50" y1="43.50" x2="649.50" y2="43.50" stroke="#cccccc" stroke-width="1"/>
<line x1="388.50" y1="43.50" x2="388.50" y2="242.20" stroke="#d9d9d9" stroke-width="1"/>
<line x1="388.00" y1="242.20" x2="650.00" y2="242.20" stroke="#9a9a9a" stroke-width="1"/>
<line x1="649.50" y1="43.50" x2="649.50" y2="242.20" stroke="#9a9a9a" stroke-width="1"/>
<line x1="386.50" y1="233.20" x2="388.50" y2="233.20" stroke="#555" stroke-width="0.8"/>
<text x="385.00" y="235.25" font-size="5.7" fill="#4d4d4d" text-anchor="end">0</text>
<line x1="386.50" y1="168.30" x2="388.50" y2="168.30" stroke="#555" stroke-width="0.8"/>
<text x="385.00" y="170.35" font-size="5.7" fill="#4d4d4d" text-anchor="end">2</text>
<line x1="386.50" y1="103.60" x2="388.50" y2="103.60" stroke="#555" stroke-width="0.8"/>
<text x="385.00" y="105.65" font-size="5.7" fill="#4d4d4d" text-anchor="end">4</text>
<line x1="649.50" y1="184.70" x2="651.50" y2="184.70" stroke="#555" stroke-width="0.8"/>
<text x="652.50" y="186.75" font-size="5.7" fill="#4d4d4d">0.2</text>
<line x1="649.50" y1="127.20" x2="651.50" y2="127.20" stroke="#555" stroke-width="0.8"/>
<text x="652.50" y="129.25" font-size="5.7" fill="#4d4d4d">0.4</text>
<line x1="649.50" y1="69.70" x2="651.50" y2="69.70" stroke="#555" stroke-width="0.8"/>
<text x="652.50" y="71.75" font-size="5.7" fill="#4d4d4d">0.6</text>
<line x1="435.50" y1="242.20" x2="435.50" y2="244.20" stroke="#555" stroke-width="0.8"/>
<text x="435.80" y="249.80" font-size="5.7" fill="#4d4d4d" text-anchor="middle">8</text>
<line x1="500.90" y1="242.20" x2="500.90" y2="244.20" stroke="#555" stroke-width="0.8"/>
<text x="501.20" y="249.80" font-size="5.7" fill="#4d4d4d" text-anchor="middle">9</text>
<line x1="566.30" y1="242.20" x2="566.30" y2="244.20" stroke="#555" stroke-width="0.8"/>
<text x="566.60" y="249.80" font-size="5.7" fill="#4d4d4d" text-anchor="middle">10</text>
<line x1="631.70" y1="242.20" x2="631.70" y2="244.20" stroke="#555" stroke-width="0.8"/>
<text x="632.00" y="249.80" font-size="5.7" fill="#4d4d4d" text-anchor="middle">11</text>
<text x="519.00" y="258.40" font-size="6.3" font-weight="bold" fill="#222" text-anchor="middle">TyG index</text>
<text transform="translate(379.00,142.75) rotate(-90)" font-size="7.2" font-weight="bold" fill="#333" text-anchor="middle">HR (95%CI)</text>
<text transform="translate(660.50,142.70) rotate(90)" font-size="6.3" font-weight="bold" fill="#222" text-anchor="middle">density</text></g>
<g><text class="t" x="33.00" y="287.60" font-size="22.50" fill="#111">C. HF rehospitalization</text>
<rect x="27.70" y="473.50" width="4.575" height="31.90" fill="#ffffe0" stroke="#6f7258" stroke-width="0.75"/>
<rect x="32.27" y="470.50" width="4.575" height="34.90" fill="#ffffe0" stroke="#6f7258" stroke-width="0.75"/>
<rect x="36.85" y="456.70" width="4.575" height="48.70" fill="#ffffe0" stroke="#6f7258" stroke-width="0.75"/>
<rect x="41.42" y="459.30" width="4.575" height="46.10" fill="#ffffe0" stroke="#6f7258" stroke-width="0.75"/>
<rect x="46.00" y="438.30" width="4.575" height="67.10" fill="#ffffe0" stroke="#6f7258" stroke-width="0.75"/>
<rect x="50.58" y="416.70" width="4.575" height="88.70" fill="#ffffe0" stroke="#6f7258" stroke-width="0.75"/>
<rect x="55.15" y="419.30" width="4.575" height="86.10" fill="#ffffe0" stroke="#6f7258" stroke-width="0.75"/>
<rect x="59.72" y="420.40" width="4.575" height="85.00" fill="#ffffe0" stroke="#6f7258" stroke-width="0.75"/>
<rect x="64.30" y="407.30" width="4.575" height="98.10" fill="#ffffe0" stroke="#6f7258" stroke-width="0.75"/>
<rect x="68.88" y="407.30" width="4.575" height="98.10" fill="#ffffe0" stroke="#6f7258" stroke-width="0.75"/>
<rect x="73.45" y="375.60" width="4.575" height="129.80" fill="#ffffe0" stroke="#6f7258" stroke-width="0.75"/>
<rect x="78.03" y="383.30" width="4.575" height="122.10" fill="#ffffe0" stroke="#6f7258" stroke-width="0.75"/>
<rect x="82.60" y="360.70" width="4.575" height="144.70" fill="#ffffe0" stroke="#6f7258" stroke-width="0.75"/>
<rect x="87.17" y="358.70" width="4.575" height="146.70" fill="#ffffe0" stroke="#6f7258" stroke-width="0.75"/>
<rect x="91.75" y="345.60" width="4.575" height="159.80" fill="#ffffe0" stroke="#6f7258" stroke-width="0.75"/>
<rect x="96.33" y="339.70" width="4.575" height="165.70" fill="#ffffe0" stroke="#6f7258" stroke-width="0.75"/>
<rect x="100.90" y="350.40" width="4.575" height="155.00" fill="#ffffe0" stroke="#6f7258" stroke-width="0.75"/>
<rect x="105.48" y="324.60" width="4.575" height="180.80" fill="#ffffe0" stroke="#6f7258" stroke-width="0.75"/>
<rect x="110.05" y="325.90" width="4.575" height="179.50" fill="#ffffe0" stroke="#6f7258" stroke-width="0.75"/>
<rect x="114.62" y="357.40" width="4.575" height="148.00" fill="#ffffe0" stroke="#6f7258" stroke-width="0.75"/>
<rect x="119.20" y="353.00" width="4.575" height="152.40" fill="#ffffe0" stroke="#6f7258" stroke-width="0.75"/>
<rect x="123.78" y="358.70" width="4.575" height="146.70" fill="#ffffe0" stroke="#6f7258" stroke-width="0.75"/>
<rect x="128.35" y="380.50" width="4.575" height="124.90" fill="#ffffe0" stroke="#6f7258" stroke-width="0.75"/>
<rect x="132.93" y="386.50" width="4.575" height="118.90" fill="#ffffe0" stroke="#6f7258" stroke-width="0.75"/>
<rect x="137.50" y="381.50" width="4.575" height="123.90" fill="#ffffe0" stroke="#6f7258" stroke-width="0.75"/>
<rect x="142.07" y="374.50" width="4.575" height="130.90" fill="#ffffe0" stroke="#6f7258" stroke-width="0.75"/>
<rect x="146.65" y="414.40" width="4.575" height="91.00" fill="#ffffe0" stroke="#6f7258" stroke-width="0.75"/>
<rect x="151.22" y="404.60" width="4.575" height="100.80" fill="#ffffe0" stroke="#6f7258" stroke-width="0.75"/>
<rect x="155.80" y="435.70" width="4.575" height="69.70" fill="#ffffe0" stroke="#6f7258" stroke-width="0.75"/>
<rect x="160.38" y="428.10" width="4.575" height="77.30" fill="#ffffe0" stroke="#6f7258" stroke-width="0.75"/>
<rect x="164.95" y="425.50" width="4.575" height="79.90" fill="#ffffe0" stroke="#6f7258" stroke-width="0.75"/>
<rect x="169.53" y="449.10" width="4.575" height="56.30" fill="#ffffe0" stroke="#6f7258" stroke-width="0.75"/>
<rect x="174.10" y="443.30" width="4.575" height="62.10" fill="#ffffe0" stroke="#6f7258" stroke-width="0.75"/>
<rect x="178.67" y="447.10" width="4.575" height="58.30" fill="#ffffe0" stroke="#6f7258" stroke-width="0.75"/>
<rect x="183.25" y="456.50" width="4.575" height="48.90" fill="#ffffe0" stroke="#6f7258" stroke-width="0.75"/>
<rect x="187.82" y="458.50" width="4.575" height="46.90" fill="#ffffe0" stroke="#6f7258" stroke-width="0.75"/>
<rect x="192.40" y="470.40" width="4.575" height="35.00" fill="#ffffe0" stroke="#6f7258" stroke-width="0.75"/>
<rect x="196.97" y="461.50" width="4.575" height="43.90" fill="#ffffe0" stroke="#6f7258" stroke-width="0.75"/>
<rect x="201.55" y="464.40" width="4.575" height="41.00" fill="#ffffe0" stroke="#6f7258" stroke-width="0.75"/>
<rect x="206.12" y="476.30" width="4.575" height="29.10" fill="#ffffe0" stroke="#6f7258" stroke-width="0.75"/>
<rect x="210.70" y="470.30" width="4.575" height="35.10" fill="#ffffe0" stroke="#6f7258" stroke-width="0.75"/>
<rect x="215.28" y="473.50" width="4.575" height="31.90" fill="#ffffe0" stroke="#6f7258" stroke-width="0.75"/>
<rect x="219.85" y="473.50" width="4.575" height="31.90" fill="#ffffe0" stroke="#6f7258" stroke-width="0.75"/>
<rect x="224.42" y="474.70" width="4.575" height="30.70" fill="#ffffe0" stroke="#6f7258" stroke-width="0.75"/>
<rect x="229.00" y="472.10" width="4.575" height="33.30" fill="#ffffe0" stroke="#6f7258" stroke-width="0.75"/>
<rect x="233.57" y="476.50" width="4.575" height="28.90" fill="#ffffe0" stroke="#6f7258" stroke-width="0.75"/>
<rect x="238.15" y="478.00" width="4.575" height="27.40" fill="#ffffe0" stroke="#6f7258" stroke-width="0.75"/>
<rect x="242.72" y="479.70" width="4.575" height="25.70" fill="#ffffe0" stroke="#6f7258" stroke-width="0.75"/>
<rect x="247.30" y="476.50" width="4.575" height="28.90" fill="#ffffe0" stroke="#6f7258" stroke-width="0.75"/>
<rect x="251.88" y="479.70" width="4.575" height="25.70" fill="#ffffe0" stroke="#6f7258" stroke-width="0.75"/>
<rect x="256.45" y="478.00" width="4.575" height="27.40" fill="#ffffe0" stroke="#6f7258" stroke-width="0.75"/>
<rect x="261.03" y="479.70" width="4.575" height="25.70" fill="#ffffe0" stroke="#6f7258" stroke-width="0.75"/>
<path d="M31.30,431.62 L32.30,432.37 L33.30,433.11 L34.30,433.84 L35.31,434.55 L36.31,435.26 L37.31,435.96 L38.31,436.64 L39.31,437.32 L40.31,437.98 L41.31,438.63 L42.31,439.27 L43.32,439.90 L44.32,440.52 L45.32,441.13 L46.32,441.73 L47.32,442.31 L48.32,442.89 L49.32,443.45 L50.32,444.00 L51.33,444.55 L52.33,445.07 L53.33,445.59 L54.33,446.10 L55.33,446.60 L56.33,447.08 L57.33,447.55 L58.34,448.01 L59.34,448.46 L60.34,448.90 L61.34,449.33 L62.34,449.75 L63.34,450.15 L64.34,450.55 L65.34,450.93 L66.35,451.30 L67.35,451.66 L68.35,452.01 L69.35,452.35 L70.35,452.68 L71.35,452.99 L72.35,453.29 L73.35,453.59 L74.36,453.87 L75.36,454.14 L76.36,454.40 L77.36,454.65 L78.36,454.88 L79.36,455.11 L80.36,455.32 L81.36,455.53 L82.37,455.72 L83.37,455.90 L84.37,456.07 L85.37,456.22 L86.37,456.37 L87.37,456.50 L88.37,456.62 L89.38,456.73 L90.38,456.83 L91.38,456.92 L92.38,456.99 L93.38,457.05 L94.38,457.10 L95.38,457.14 L96.38,457.16 L97.39,457.17 L98.39,457.17 L99.39,457.15 L100.39,457.13 L101.39,457.09 L102.39,457.03 L103.39,456.96 L104.39,456.88 L105.40,456.78 L106.40,456.67 L107.40,456.54 L108.40,456.40 L109.40,456.24 L109.50,456.23 L110.40,455.67 L111.40,455.05 L112.41,454.45 L113.41,453.87 L114.41,453.29 L115.41,452.73 L116.41,452.17 L117.41,451.63 L118.41,451.10 L119.41,450.58 L120.42,450.07 L121.42,449.57 L122.42,449.08 L123.42,448.60 L124.42,448.13 L125.42,447.66 L126.42,447.21 L127.42,446.76 L128.43,446.31 L129.43,445.88 L130.43,445.45 L131.43,445.02 L132.43,444.60 L133.43,444.19 L134.43,443.78 L135.44,443.37 L136.44,442.97 L137.44,442.57 L138.44,442.18 L139.44,441.78 L140.44,441.39 L141.44,441.00 L142.44,440.61 L143.45,440.22 L144.45,439.83 L145.45,439.45 L146.45,439.06 L147.45,438.67 L148.45,438.28 L149.45,437.88 L150.45,437.49 L151.46,437.09 L152.46,436.69 L153.46,436.29 L154.46,435.88 L155.46,435.47 L156.46,435.06 L157.46,434.64 L158.46,434.22 L159.47,433.79 L160.47,433.36 L161.47,432.92 L162.47,432.48 L163.47,432.03 L164.47,431.57 L165.47,431.11 L166.48,430.64 L167.48,430.16 L168.48,429.68 L169.48,429.19 L170.48,428.69 L171.48,428.18 L172.48,427.66 L173.48,427.14 L174.49,426.60 L175.49,426.06 L176.49,425.51 L177.49,424.95 L178.49,424.38 L179.49,423.80 L180.49,423.21 L181.49,422.61 L182.50,422.00 L183.50,421.38 L184.50,420.74 L185.50,420.10 L186.50,419.45 L187.50,418.78 L188.50,418.10 L189.51,417.42 L190.51,416.72 L191.51,416.01 L192.51,415.28 L193.51,414.55 L194.51,413.80 L195.51,413.04 L196.51,412.27 L197.52,411.48 L198.52,410.68 L199.52,409.87 L200.52,409.05 L201.52,408.21 L202.52,407.36 L203.52,406.50 L204.52,405.62 L205.53,404.73 L206.53,403.82 L207.53,402.90 L208.53,401.97 L209.53,401.02 L210.53,400.06 L211.53,399.08 L212.54,398.09 L213.54,397.09 L214.54,396.07 L215.54,395.03 L216.54,393.98 L217.54,392.92 L218.54,391.84 L219.54,390.74 L220.55,389.63 L221.55,388.50 L222.55,387.35 L223.55,386.19 L224.55,385.02 L225.55,383.82 L226.55,382.61 L227.55,381.39 L228.56,380.14 L229.56,378.88 L230.56,377.60 L231.56,376.30 L232.56,374.99 L233.56,373.65 L234.56,372.30 L235.56,370.92 L236.57,369.53 L237.57,368.12 L238.57,366.69 L239.57,365.23 L240.57,363.76 L241.57,362.26 L242.57,360.74 L243.58,359.20 L244.58,357.63 L245.58,356.04 L246.58,354.43 L247.58,352.79 L248.58,351.12 L249.58,349.43 L250.58,347.71 L251.59,345.96 L252.59,344.18 L253.59,342.37 L254.59,340.53 L255.59,338.66 L256.59,336.76 L257.59,334.81 L258.59,332.84 L259.60,330.82 L260.60,328.77 L261.60,326.67 L262.60,324.53 L262.60,460.49 L261.60,460.26 L260.60,460.04 L259.60,459.82 L258.59,459.61 L257.59,459.40 L256.59,459.19 L255.59,459.00 L254.59,458.80 L253.59,458.62 L252.59,458.43 L251.59,458.26 L250.58,458.09 L249.58,457.92 L248.58,457.76 L247.58,457.60 L246.58,457.45 L245.58,457.30 L244.58,457.16 L243.58,457.03 L242.57,456.89 L241.57,456.77 L240.57,456.65 L239.57,456.53 L238.57,456.42 L237.57,456.31 L236.57,456.20 L235.56,456.10 L234.56,456.01 L233.56,455.92 L232.56,455.83 L231.56,455.75 L230.56,455.67 L229.56,455.60 L228.56,455.53 L227.55,455.46 L226.55,455.40 L225.55,455.34 L224.55,455.28 L223.55,455.23 L222.55,455.18 L221.55,455.14 L220.55,455.10 L219.54,455.06 L218.54,455.02 L217.54,454.99 L216.54,454.96 L215.54,454.94 L214.54,454.91 L213.54,454.89 L212.54,454.88 L211.53,454.86 L210.53,454.85 L209.53,454.84 L208.53,454.83 L207.53,454.83 L206.53,454.83 L205.53,454.83 L204.52,454.83 L203.52,454.83 L202.52,454.84 L201.52,454.84 L200.52,454.85 L199.52,454.87 L198.52,454.88 L197.52,454.89 L196.51,454.91 L195.51,454.93 L194.51,454.95 L193.51,454.97 L192.51,454.99 L191.51,455.01 L190.51,455.04 L189.51,455.06 L188.50,455.09 L187.50,455.12 L186.50,455.14 L185.50,455.17 L184.50,455.20 L183.50,455.23 L182.50,455.27 L181.49,455.30 L180.49,455.33 L179.49,455.36 L178.49,455.40 L177.49,455.43 L176.49,455.47 L175.49,455.50 L174.49,455.53 L173.48,455.57 L172.48,455.60 L171.48,455.64 L170.48,455.67 L169.48,455.71 L168.48,455.74 L167.48,455.78 L166.48,455.81 L165.47,455.85 L164.47,455.88 L163.47,455.92 L162.47,455.95 L161.47,455.98 L160.47,456.01 L159.47,456.05 L158.46,456.08 L157.46,456.11 L156.46,456.14 L155.46,456.17 L154.46,456.20 L153.46,456.23 L152.46,456.25 L151.46,456.28 L150.45,456.31 L149.45,456.33 L148.45,456.35 L147.45,456.38 L146.45,456.40 L145.45,456.42 L144.45,456.44 L143.45,456.46 L142.44,456.48 L141.44,456.49 L140.44,456.51 L139.44,456.52 L138.44,456.53 L137.44,456.55 L136.44,456.56 L135.44,456.56 L134.43,456.57 L133.43,456.58 L132.43,456.58 L131.43,456.58 L130.43,456.59 L129.43,456.59 L128.43,456.58 L127.42,456.58 L126.42,456.58 L125.42,456.57 L124.42,456.56 L123.42,456.55 L122.42,456.54 L121.42,456.53 L120.42,456.51 L119.41,456.50 L118.41,456.48 L117.41,456.46 L116.41,456.43 L115.41,456.41 L114.41,456.38 L113.41,456.36 L112.41,456.33 L111.40,456.29 L110.40,456.26 L109.50,456.23 L109.40,456.26 L108.40,456.54 L107.40,456.83 L106.40,457.13 L105.40,457.43 L104.39,457.74 L103.39,458.05 L102.39,458.36 L101.39,458.68 L100.39,459.00 L99.39,459.33 L98.39,459.65 L97.39,459.98 L96.38,460.32 L95.38,460.65 L94.38,460.99 L93.38,461.33 L92.38,461.67 L91.38,462.01 L90.38,462.35 L89.38,462.69 L88.37,463.04 L87.37,463.38 L86.37,463.73 L85.37,464.07 L84.37,464.42 L83.37,464.76 L82.37,465.11 L81.36,465.45 L80.36,465.79 L79.36,466.14 L78.36,466.48 L77.36,466.82 L76.36,467.16 L75.36,467.49 L74.36,467.83 L73.35,468.16 L72.35,468.49 L71.35,468.82 L70.35,469.15 L69.35,469.48 L68.35,469.80 L67.35,470.12 L66.35,470.44 L65.34,470.76 L64.34,471.07 L63.34,471.38 L62.34,471.69 L61.34,471.99 L60.34,472.29 L59.34,472.59 L58.34,472.89 L57.33,473.18 L56.33,473.47 L55.33,473.75 L54.33,474.04 L53.33,474.32 L52.33,474.59 L51.33,474.86 L50.32,475.13 L49.32,475.40 L48.32,475.66 L47.32,475.91 L46.32,476.17 L45.32,476.42 L44.32,476.66 L43.32,476.91 L42.31,477.15 L41.31,477.38 L40.31,477.61 L39.31,477.84 L38.31,478.06 L37.31,478.28 L36.31,478.50 L35.31,478.71 L34.30,478.92 L33.30,479.12 L32.30,479.32 L31.30,479.52 Z" fill="#ff0000" fill-opacity="0.3" stroke="none"/>
<line x1="15.90" y1="456.50" x2="277.60" y2="456.50" stroke="#5d607e" stroke-width="0.85" stroke-dasharray="1.7,1.905"/>
<path d="M31.30,461.51 L32.30,461.55 L33.30,461.60 L34.30,461.64 L35.31,461.67 L36.31,461.70 L37.31,461.73 L38.31,461.76 L39.31,461.78 L40.31,461.80 L41.31,461.82 L42.31,461.83 L43.32,461.84 L44.32,461.85 L45.32,461.85 L46.32,461.85 L47.32,461.85 L48.32,461.84 L49.32,461.83 L50.32,461.82 L51.33,461.81 L52.33,461.79 L53.33,461.77 L54.33,461.74 L55.33,461.72 L56.33,461.69 L57.33,461.65 L58.34,461.62 L59.34,461.58 L60.34,461.54 L61.34,461.49 L62.34,461.44 L63.34,461.39 L64.34,461.34 L65.34,461.28 L66.35,461.22 L67.35,461.16 L68.35,461.10 L69.35,461.03 L70.35,460.96 L71.35,460.89 L72.35,460.81 L73.35,460.73 L74.36,460.65 L75.36,460.57 L76.36,460.48 L77.36,460.39 L78.36,460.30 L79.36,460.21 L80.36,460.11 L81.36,460.01 L82.37,459.91 L83.37,459.80 L84.37,459.70 L85.37,459.59 L86.37,459.47 L87.37,459.36 L88.37,459.24 L89.38,459.12 L90.38,459.00 L91.38,458.88 L92.38,458.75 L93.38,458.62 L94.38,458.49 L95.38,458.36 L96.38,458.22 L97.39,458.08 L98.39,457.94 L99.39,457.80 L100.39,457.65 L101.39,457.50 L102.39,457.35 L103.39,457.20 L104.39,457.05 L105.40,456.89 L106.40,456.73 L107.40,456.57 L108.40,456.41 L109.40,456.24 L109.50,456.23 L110.40,456.08 L111.40,455.91 L112.41,455.74 L113.41,455.56 L114.41,455.39 L115.41,455.21 L116.41,455.03 L117.41,454.85 L118.41,454.67 L119.41,454.48 L120.42,454.29 L121.42,454.10 L122.42,453.91 L123.42,453.72 L124.42,453.52 L125.42,453.33 L126.42,453.13 L127.42,452.93 L128.43,452.73 L129.43,452.52 L130.43,452.31 L131.43,452.11 L132.43,451.90 L133.43,451.69 L134.43,451.47 L135.44,451.26 L136.44,451.04 L137.44,450.82 L138.44,450.60 L139.44,450.38 L140.44,450.16 L141.44,449.94 L142.44,449.71 L143.45,449.48 L144.45,449.25 L145.45,449.02 L146.45,448.79 L147.45,448.56 L148.45,448.32 L149.45,448.08 L150.45,447.85 L151.46,447.61 L152.46,447.36 L153.46,447.12 L154.46,446.88 L155.46,446.63 L156.46,446.39 L157.46,446.14 L158.46,445.89 L159.47,445.64 L160.47,445.39 L161.47,445.13 L162.47,444.88 L163.47,444.62 L164.47,444.36 L165.47,444.11 L166.48,443.85 L167.48,443.59 L168.48,443.32 L169.48,443.06 L170.48,442.80 L171.48,442.53 L172.48,442.27 L173.48,442.00 L174.49,441.73 L175.49,441.46 L176.49,441.19 L177.49,440.92 L178.49,440.64 L179.49,440.37 L180.49,440.10 L181.49,439.82 L182.50,439.54 L183.50,439.27 L184.50,438.99 L185.50,438.71 L186.50,438.43 L187.50,438.15 L188.50,437.87 L189.51,437.58 L190.51,437.30 L191.51,437.01 L192.51,436.73 L193.51,436.44 L194.51,436.16 L195.51,435.87 L196.51,435.58 L197.52,435.29 L198.52,435.00 L199.52,434.71 L200.52,434.42 L201.52,434.13 L202.52,433.84 L203.52,433.55 L204.52,433.25 L205.53,432.96 L206.53,432.66 L207.53,432.37 L208.53,432.07 L209.53,431.78 L210.53,431.48 L211.53,431.18 L212.54,430.89 L213.54,430.59 L214.54,430.29 L215.54,429.99 L216.54,429.69 L217.54,429.39 L218.54,429.09 L219.54,428.79 L220.55,428.49 L221.55,428.19 L222.55,427.89 L223.55,427.59 L224.55,427.29 L225.55,426.98 L226.55,426.68 L227.55,426.38 L228.56,426.08 L229.56,425.77 L230.56,425.47 L231.56,425.17 L232.56,424.86 L233.56,424.56 L234.56,424.26 L235.56,423.95 L236.57,423.65 L237.57,423.35 L238.57,423.04 L239.57,422.74 L240.57,422.43 L241.57,422.13 L242.57,421.83 L243.58,421.52 L244.58,421.22 L245.58,420.92 L246.58,420.61 L247.58,420.31 L248.58,420.01 L249.58,419.70 L250.58,419.40 L251.59,419.10 L252.59,418.79 L253.59,418.49 L254.59,418.19 L255.59,417.89 L256.59,417.58 L257.59,417.28 L258.59,416.98 L259.60,416.68 L260.60,416.38 L261.60,416.08 L262.60,415.78" fill="none" stroke="#de1f26" stroke-width="1.45" stroke-linecap="butt"/>
<line x1="16.00" y1="315.50" x2="277.60" y2="315.50" stroke="#cccccc" stroke-width="1"/>
<line x1="16.00" y1="315.50" x2="16.00" y2="513.50" stroke="#d9d9d9" stroke-width="1"/>
<line x1="15.50" y1="513.50" x2="278.10" y2="513.50" stroke="#9a9a9a" stroke-width="1"/>
<line x1="277.60" y1="315.50" x2="277.60" y2="513.50" stroke="#9a9a9a" stroke-width="1"/>
<line x1="14.00" y1="505.30" x2="16.00" y2="505.30" stroke="#555" stroke-width="0.8"/>
<text x="12.50" y="507.35" font-size="5.7" fill="#4d4d4d" text-anchor="end">0</text>
<line x1="14.00" y1="456.50" x2="16.00" y2="456.50" stroke="#555" stroke-width="0.8"/>
<text x="12.50" y="458.55" font-size="5.7" fill="#4d4d4d" text-anchor="end">1</text>
<line x1="14.00" y1="407.70" x2="16.00" y2="407.70" stroke="#555" stroke-width="0.8"/>
<text x="12.50" y="409.75" font-size="5.7" fill="#4d4d4d" text-anchor="end">2</text>
<line x1="14.00" y1="358.90" x2="16.00" y2="358.90" stroke="#555" stroke-width="0.8"/>
<text x="12.50" y="360.95" font-size="5.7" fill="#4d4d4d" text-anchor="end">3</text>
<line x1="277.60" y1="456.80" x2="279.60" y2="456.80" stroke="#555" stroke-width="0.8"/>
<text x="280.60" y="458.85" font-size="5.7" fill="#4d4d4d">0.2</text>
<line x1="277.60" y1="399.30" x2="279.60" y2="399.30" stroke="#555" stroke-width="0.8"/>
<text x="280.60" y="401.35" font-size="5.7" fill="#4d4d4d">0.4</text>
<line x1="277.60" y1="341.80" x2="279.60" y2="341.80" stroke="#555" stroke-width="0.8"/>
<text x="280.60" y="343.85" font-size="5.7" fill="#4d4d4d">0.6</text>
<line x1="63.20" y1="513.50" x2="63.20" y2="515.50" stroke="#555" stroke-width="0.8"/>
<text x="63.50" y="521.10" font-size="5.7" fill="#4d4d4d" text-anchor="middle">8</text>
<line x1="128.60" y1="513.50" x2="128.60" y2="515.50" stroke="#555" stroke-width="0.8"/>
<text x="128.90" y="521.10" font-size="5.7" fill="#4d4d4d" text-anchor="middle">9</text>
<line x1="194.00" y1="513.50" x2="194.00" y2="515.50" stroke="#555" stroke-width="0.8"/>
<text x="194.30" y="521.10" font-size="5.7" fill="#4d4d4d" text-anchor="middle">10</text>
<line x1="259.40" y1="513.50" x2="259.40" y2="515.50" stroke="#555" stroke-width="0.8"/>
<text x="259.70" y="521.10" font-size="5.7" fill="#4d4d4d" text-anchor="middle">11</text>
<text x="146.80" y="529.70" font-size="6.3" font-weight="bold" fill="#222" text-anchor="middle">TyG index</text>
<text transform="translate(7.00,414.85) rotate(-90)" font-size="7.2" font-weight="bold" fill="#333" text-anchor="middle">HR (95%CI)</text>
<text transform="translate(288.60,414.80) rotate(90)" font-size="6.3" font-weight="bold" fill="#222" text-anchor="middle">density</text></g>
</svg></body></html>
